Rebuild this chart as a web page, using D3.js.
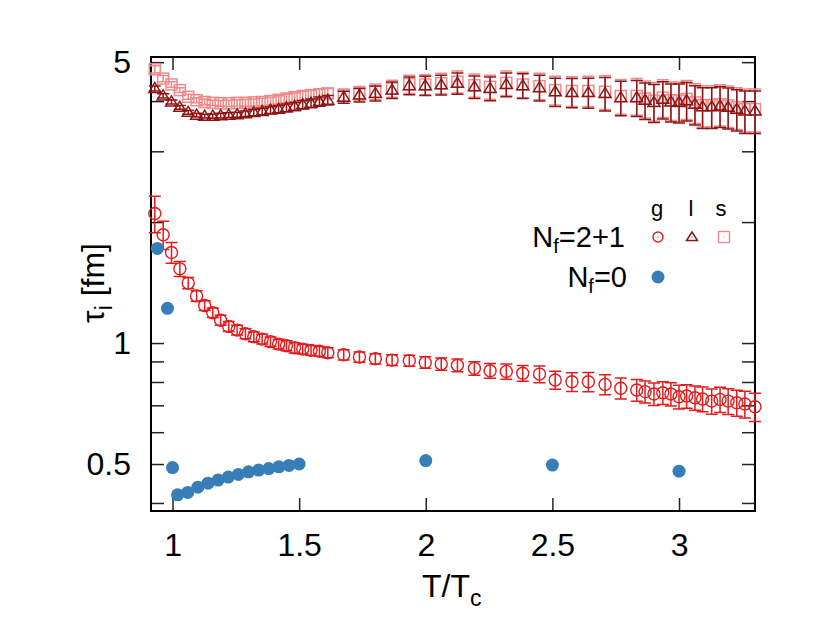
<!DOCTYPE html>
<html>
<head>
<meta charset="utf-8">
<script src="https://cdn.jsdelivr.net/npm/d3@7"></script>
<style>
  html, body { margin: 0; padding: 0; background: #fff; }
  svg text { font-family: "Liberation Sans", Arial, Helvetica, sans-serif; fill: #000; }
</style>
</head>
<body>
<svg id="chart" width="814" height="617"></svg>
<script>
// ---------- data ----------
const tNf21 = [0.930, 0.963, 0.996, 1.029, 1.062, 1.095, 1.127, 1.159, 1.190, 1.222, 1.255, 1.288, 1.321, 1.354, 1.387, 1.419, 1.450, 1.482, 1.514, 1.547, 1.580, 1.613,
  1.676, 1.738, 1.801, 1.867, 1.935, 1.998, 2.061, 2.125, 2.192, 2.254, 2.318, 2.383, 2.449, 2.511, 2.577, 2.642, 2.708, 2.770, 2.833,
  2.866, 2.901, 2.936, 2.968, 3.000, 3.030, 3.063, 3.093, 3.129, 3.162, 3.194, 3.228, 3.260, 3.300];

const tauG = [2.10, 1.86, 1.68, 1.53, 1.41, 1.31, 1.24, 1.19, 1.14, 1.10, 1.077, 1.055, 1.037, 1.023, 1.008, 0.994, 0.985, 0.973, 0.966, 0.959, 0.954, 0.946,
  0.935, 0.923, 0.914, 0.907, 0.904, 0.895, 0.887, 0.880, 0.865, 0.853, 0.850, 0.841, 0.837, 0.809, 0.801, 0.801, 0.789, 0.772, 0.764,
  0.757, 0.747, 0.752, 0.747, 0.735, 0.738, 0.731, 0.726, 0.717, 0.724, 0.717, 0.710, 0.705, 0.694];
const errG = [0.22, 0.15, 0.10, 0.065, 0.045, 0.04, 0.035, 0.033, 0.032, 0.031, 0.030, 0.030, 0.029, 0.029, 0.028, 0.028, 0.028, 0.028, 0.027, 0.027, 0.027, 0.027,
  0.027, 0.027, 0.027, 0.028, 0.028, 0.030, 0.031, 0.032, 0.034, 0.036, 0.037, 0.038, 0.040, 0.042, 0.043, 0.044, 0.045, 0.046, 0.048,
  0.048, 0.048, 0.049, 0.050, 0.050, 0.050, 0.051, 0.051, 0.052, 0.052, 0.053, 0.053, 0.054, 0.056];

const tauL = [4.30, 4.12, 3.98, 3.86, 3.75, 3.69, 3.67, 3.67, 3.68, 3.69, 3.70, 3.72, 3.745, 3.77, 3.80, 3.82, 3.85, 3.88, 3.92, 3.95, 3.99, 4.02,
  4.09, 4.14, 4.18, 4.26, 4.37, 4.37, 4.39, 4.43, 4.34, 4.30, 4.40, 4.37, 4.32, 4.22, 4.20, 4.20, 4.18, 4.08, 4.08,
  4.02, 3.97, 4.04, 3.98, 3.97, 4.01, 3.93, 3.87, 3.87, 3.89, 3.86, 3.82, 3.78, 3.78];
const errL = [0.06, 0.05, 0.045, 0.04, 0.04, 0.04, 0.04, 0.045, 0.05, 0.05, 0.055, 0.06, 0.065, 0.07, 0.075, 0.08, 0.085, 0.09, 0.095, 0.10, 0.105, 0.11,
  0.14, 0.16, 0.18, 0.20, 0.22, 0.24, 0.25, 0.27, 0.28, 0.29, 0.30, 0.31, 0.32, 0.34, 0.35, 0.36, 0.40, 0.40, 0.42,
  0.42, 0.43, 0.43, 0.43, 0.44, 0.44, 0.44, 0.45, 0.45, 0.45, 0.45, 0.45, 0.46, 0.46];

const tauS = [4.80, 4.55, 4.40, 4.26, 4.10, 4.02, 3.98, 3.96, 3.95, 3.95, 3.96, 3.96, 3.97, 3.98, 4.00, 4.03, 4.06, 4.09, 4.12, 4.14, 4.16, 4.18,
  4.14, 4.18, 4.22, 4.30, 4.41, 4.40, 4.43, 4.47, 4.38, 4.34, 4.44, 4.40, 4.36, 4.26, 4.24, 4.24, 4.22, 4.12, 4.12,
  4.06, 4.01, 4.08, 4.02, 4.01, 4.05, 3.97, 3.91, 3.91, 3.93, 3.90, 3.86, 3.82, 3.82];
const errS = [0.10, 0.08, 0.07, 0.06, 0.06, 0.06, 0.06, 0.06, 0.065, 0.07, 0.07, 0.075, 0.08, 0.085, 0.09, 0.095, 0.10, 0.10, 0.11, 0.11, 0.12, 0.12,
  0.15, 0.17, 0.19, 0.21, 0.23, 0.25, 0.26, 0.28, 0.29, 0.30, 0.31, 0.32, 0.33, 0.35, 0.36, 0.37, 0.41, 0.41, 0.43,
  0.43, 0.44, 0.44, 0.44, 0.45, 0.45, 0.45, 0.46, 0.46, 0.46, 0.46, 0.46, 0.47, 0.47];

const tNf0   = [0.94, 0.98, 1.00, 1.02, 1.06, 1.10, 1.14, 1.18, 1.22, 1.26, 1.30, 1.34, 1.38, 1.42, 1.46, 1.50, 2.0, 2.5, 3.0];
const tauNf0 = [1.72, 1.22, 0.49, 0.419, 0.425, 0.438, 0.448, 0.456, 0.464, 0.471, 0.478, 0.483, 0.487, 0.492, 0.496, 0.500, 0.510, 0.497, 0.480];

const xTicks = [1, 1.5, 2, 2.5, 3];
const yTicks = [0.4, 0.5, 0.6, 0.7, 0.8, 0.9, 1, 2, 3, 4, 5];
const yLabeled = [0.5, 1, 5];

// ---------- layout ----------
const svg = d3.select("#chart");
svg.append("rect").attr("width", 814).attr("height", 617).attr("fill", "#fff");
const L = 151, R = 755, T = 57, B = 511;
const x = d3.scaleLinear().domain([0.915, 3.3]).range([L, R]);
const y = d3.scaleLog().domain([0.382, 5.15]).range([B, T]);

const COL_G = "#e41a1c", COL_L = "#8e1515", COL_S = "#f08a8a", COL_0 = "#377eb8";
const FONT = 32, TICK = 13;

// axes
const axB = svg.append("g").attr("transform", `translate(0,${B})`)
  .call(d3.axisBottom(x).tickValues(xTicks).tickSizeInner(-TICK).tickSizeOuter(0).tickPadding(22.6).tickFormat(d3.format("")));
const axT = svg.append("g").attr("transform", `translate(0,${T})`)
  .call(d3.axisTop(x).tickValues(xTicks).tickSizeInner(-TICK).tickSizeOuter(0).tickFormat(""));
const axL = svg.append("g").attr("transform", `translate(${L},0)`)
  .call(d3.axisLeft(y).tickValues(yTicks).tickSizeInner(-TICK).tickSizeOuter(0).tickPadding(20)
    .tickFormat(d => yLabeled.includes(d) ? String(d) : ""));
const axR = svg.append("g").attr("transform", `translate(${R},0)`)
  .call(d3.axisRight(y).tickValues(yTicks).tickSizeInner(-TICK).tickSizeOuter(0).tickFormat(""));
[axB, axT, axL, axR].forEach(g => {
  g.select(".domain").remove();
  g.selectAll(".tick line").attr("stroke", "#222").attr("stroke-width", 1.5);
  g.selectAll(".tick text").attr("font-size", FONT).attr("font-family", "Liberation Sans, Arial, sans-serif").attr("fill", "#000");
});

// frame
svg.append("rect").attr("x", L).attr("y", T).attr("width", R - L).attr("height", B - T)
  .attr("fill", "none").attr("stroke", "#000").attr("stroke-width", 2);

// ---------- data marks ----------
function errorBars(g, xs, vs, es, color, cap) {
  const d = xs.map((t, i) => ({ t, v: vs[i], e: es[i] }));
  const gg = g.append("g").attr("stroke", color).attr("stroke-width", 1.5).attr("fill", "none");
  gg.selectAll("path").data(d).join("path")
    .attr("d", p => {
      const cx = x(p.t), y1 = y(p.v + p.e), y0 = y(p.v - p.e);
      return `M${cx},${y0}V${y1}M${cx - cap},${y1}H${cx + cap}M${cx - cap},${y0}H${cx + cap}`;
    });
}

const plot = svg.append("g");

// s (squares)
errorBars(plot, tNf21, tauS, errS, COL_S, 6);
plot.append("g").selectAll("rect").data(tNf21.map((t, i) => ({ t, v: tauS[i] }))).join("rect")
  .attr("x", d => x(d.t) - 5.5).attr("y", d => y(d.v) - 5.5).attr("width", 11).attr("height", 11)
  .attr("fill", "none").attr("stroke", COL_S).attr("stroke-width", 1.5);

// l (triangles)
errorBars(plot, tNf21, tauL, errL, COL_L, 6);
const triPath = "M0,-6L6,4L-6,4Z";
plot.append("g").selectAll("path").data(tNf21.map((t, i) => ({ t, v: tauL[i] }))).join("path")
  .attr("d", triPath).attr("transform", d => `translate(${x(d.t)},${y(d.v)})`)
  .attr("fill", "none").attr("stroke", COL_L).attr("stroke-width", 1.5);

// g (circles)
errorBars(plot, tNf21, tauG, errG, COL_G, 6);
plot.append("g").selectAll("circle").data(tNf21.map((t, i) => ({ t, v: tauG[i] }))).join("circle")
  .attr("cx", d => x(d.t)).attr("cy", d => y(d.v)).attr("r", 6)
  .attr("fill", "none").attr("stroke", COL_G).attr("stroke-width", 1.4);

// Nf = 0
plot.append("g").selectAll("circle").data(tNf0.map((t, i) => ({ t, v: tauNf0[i] }))).join("circle")
  .attr("cx", d => x(d.t)).attr("cy", d => y(d.v)).attr("r", 6.5)
  .attr("fill", COL_0);

// ---------- axis titles ----------
const xt = svg.append("text").attr("x", 422).attr("y", 597).attr("font-size", FONT);
xt.append("tspan").text("T/T");
xt.append("tspan").attr("font-size", 23).attr("dy", 9).text("c");

const yt = svg.append("text").attr("transform", "translate(104,283) rotate(-90)")
  .attr("text-anchor", "middle").attr("font-size", FONT);
yt.append("tspan").text("τ");
yt.append("tspan").attr("font-size", 23).attr("dy", 8).text("i");
yt.append("tspan").attr("dy", -8).text(" [fm]");

// ---------- legend ----------
const leg = svg.append("g");
const hdr = [["g", 657], ["l", 691], ["s", 721]];
leg.selectAll("text.h").data(hdr).join("text").attr("class", "h")
  .attr("x", d => d[1]).attr("y", 216).attr("text-anchor", "middle").attr("font-size", 22).text(d => d[0]);

function nfLabel(val, xEnd, yBase) {
  const t = leg.append("text").attr("x", xEnd).attr("y", yBase).attr("text-anchor", "end").attr("font-size", 29);
  t.append("tspan").text("N");
  t.append("tspan").attr("font-size", 20).attr("dy", 6).text("f");
  t.append("tspan").attr("dy", -6).text("=" + val);
}
nfLabel("2+1", 625, 247);
nfLabel("0", 627, 287);

leg.append("circle").attr("cx", 658).attr("cy", 237).attr("r", 5).attr("fill", "none").attr("stroke", COL_G).attr("stroke-width", 1.4);
leg.append("path").attr("d", "M0,-5L5.5,3.5L-5.5,3.5Z").attr("transform", "translate(692,237)")
  .attr("fill", "none").attr("stroke", COL_L).attr("stroke-width", 1.5);
leg.append("rect").attr("x", 724 - 5.5).attr("y", 237 - 5.5).attr("width", 11).attr("height", 11)
  .attr("fill", "none").attr("stroke", COL_S).attr("stroke-width", 1.4);
[[658, COL_G], [692, COL_L], [724, COL_S]].forEach(([cx, c]) =>
  leg.append("rect").attr("x", cx - 0.5).attr("y", 236.5).attr("width", 1).attr("height", 1).attr("fill", c));
leg.append("circle").attr("cx", 658).attr("cy", 277).attr("r", 6.5).attr("fill", COL_0);
</script>
</body>
</html>
